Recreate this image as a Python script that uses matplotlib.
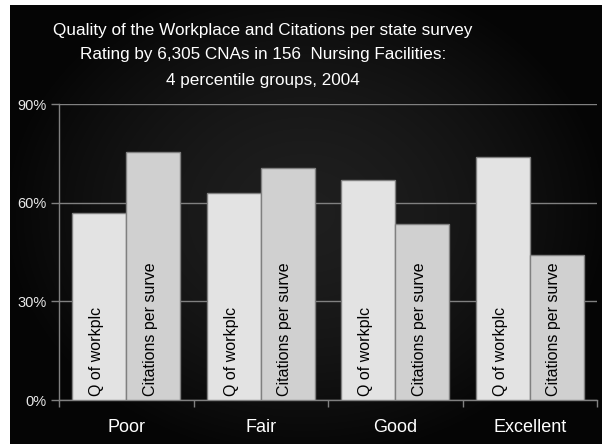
import numpy as np
import matplotlib
matplotlib.use("Agg")
import matplotlib.pyplot as plt

categories = ["Poor", "Fair", "Good", "Excellent"]
q_workplace = [57, 63, 67, 74]
citations = [75.5, 70.5, 53.5, 44]
series_labels = ["Q of workplc", "Citations per surve"]
yticks = [0, 30, 60, 90]
ytick_labels = ["0%", "30%", "60%", "90%"]
title_lines = ["Quality of the Workplace and Citations per state survey",
               "Rating by 6,305 CNAs in 156  Nursing Facilities:",
               "4 percentile groups, 2004"]

plt.rcParams['font.family'] = ['Liberation Sans', 'DejaVu Sans']

W, H = 602, 446
fig = plt.figure(figsize=(W / 100, H / 100), dpi=100, facecolor='white')

# dark gradient background panel
bg = fig.add_axes([10 / W, 2 / H, 592 / W, 439 / H])
bg.set_axis_off()
xx, yy = np.meshgrid(np.linspace(-1, 1, 300), np.linspace(-1, 1, 220))
r = np.sqrt((xx / 1.0) ** 2 + ((yy + 0.05) / 1.1) ** 2)
val = np.clip(0.12 - 0.095 * r ** 1.6, 0.02, 1)
bg.imshow(np.dstack([val, val, val]), aspect='auto', extent=[0, 1, 0, 1], interpolation='bilinear')
bg.set_xlim(0, 1)
bg.set_ylim(0, 1)

ax = fig.add_axes([59 / W, 1 - 400 / H, (597 - 59) / W, (400 - 104) / H])
ax.set_facecolor('none')

x = np.arange(len(categories))
w = 0.4
gray = '#808080'
ax.bar(x - w / 2, q_workplace, w, color='#e3e3e3', edgecolor=gray, linewidth=1.0, zorder=3)
ax.bar(x + w / 2, citations, w, color='#d0d0d0', edgecolor=gray, linewidth=1.0, zorder=3)

for i in range(len(categories)):
    ax.text(x[i] - w / 2 - 0.02, 1.3, series_labels[0], rotation=90, ha='center', va='bottom',
            fontsize=11.5, color='black', zorder=4)
    ax.text(x[i] + w / 2 - 0.02, 1.3, series_labels[1], rotation=90, ha='center', va='bottom',
            fontsize=11.5, color='black', zorder=4)

ax.set_xlim(-0.5, len(categories) - 0.5)
ax.set_ylim(0, 90)
ax.set_yticks(yticks)
ax.set_yticklabels(ytick_labels, color='#e8e8e8', fontsize=10.5)
ax.yaxis.grid(True, color=gray, linewidth=1.0, zorder=0)
ax.set_axisbelow(True)

ax.set_xticks(np.arange(-0.5, len(categories), 1.0))
ax.set_xticklabels([])
ax.set_xticks(x, minor=True)
ax.set_xticklabels(categories, minor=True, color='white', fontsize=13)
ax.tick_params(axis='x', which='minor', length=0, pad=14)
ax.tick_params(axis='x', which='major', length=5, color=gray, width=1)
ax.tick_params(axis='y', length=6, color=gray, width=1, pad=3)

for s in ['top', 'right']:
    ax.spines[s].set_visible(False)
for s in ['left', 'bottom']:
    ax.spines[s].set_color(gray)
    ax.spines[s].set_linewidth(1)

cx = 263 / W
for ln, yp in zip(title_lines, [30, 55, 80]):
    fig.text(cx, 1 - yp / H, ln, ha='center', va='center', color='white', fontsize=12.3)

fig.savefig('out.png', dpi=100, facecolor='white')
